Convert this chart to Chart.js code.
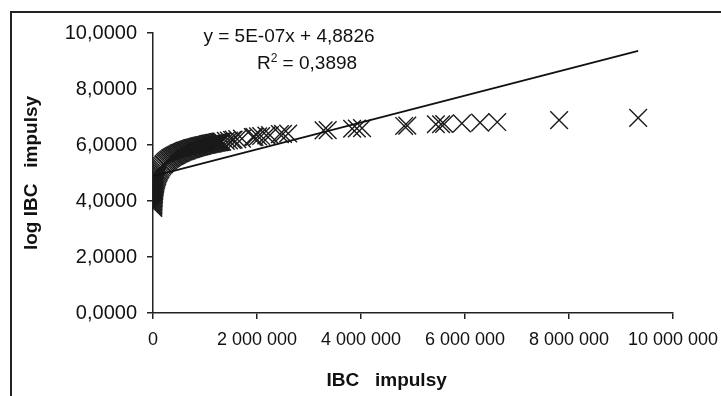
<!DOCTYPE html>
<html>
<head>
<meta charset="utf-8">
<script src="https://cdn.jsdelivr.net/npm/chart.js@4"></script>
<style>
  html, body { margin: 0; padding: 0; background: #fff; overflow: hidden; }
  #wrap { position: relative; width: 721px; height: 396px; overflow: hidden; }
  #frame { position: absolute; left: 10px; top: 11px; width: 740px; height: 420px;
           border-left: 2px solid #222; border-top: 2px solid #222; }
  canvas { position: absolute; left: 0; top: 0; }
</style>
</head>
<body>
<div id="wrap"><div id="frame"></div><canvas id="c" width="721" height="396"></canvas></div>
<script>
// IBC impulsy (x) vs log IBC impulsy (y)
const ibcX = [
  5623, 6310, 7079, 7943, 8913, 10000, 11220, 12590, 14130, 15850,
  17780, 19950, 22390, 25120, 28180, 31620, 35480, 39810, 44670, 50120,
  56230, 63100, 70790, 79430, 89130, 100000, 112200, 125900, 141300, 158500,
  177800, 199500,
  210000, 230000, 250000, 270000, 290000, 310000, 330000, 350000, 370000, 390000,
  410000, 430000, 450000, 470000, 490000, 510000, 530000, 550000, 570000, 590000,
  610000, 630000, 650000, 670000, 690000, 710000, 730000, 750000, 770000, 790000,
  810000, 830000, 850000, 870000, 890000, 910000, 930000, 950000, 970000, 990000,
  1010000, 1030000, 1050000, 1070000, 1090000, 1110000, 1130000, 1150000, 1170000, 1190000,
  1210000, 1230000, 1250000, 1270000, 1290000, 1310000, 1330000,
  1400000, 1460000, 1520000, 1550000, 1620000, 1710000, 1920000, 1950000, 2020000, 2080000,
  2180000, 2250000, 2440000, 2500000, 2600000, 3280000, 3360000, 3830000, 3920000, 4020000,
  4830000, 4890000, 5440000, 5540000, 5600000, 5940000, 6290000, 6620000, 7810000, 9330000
];
const logY = [
  3.75, 3.80, 3.85, 3.90, 3.95, 4.00, 4.05, 4.10, 4.15, 4.20,
  4.25, 4.30, 4.35, 4.40, 4.45, 4.50, 4.55, 4.60, 4.65, 4.70,
  4.75, 4.80, 4.85, 4.90, 4.95, 5.00, 5.05, 5.10, 5.15, 5.20,
  5.25, 5.30,
  5.32, 5.36, 5.40, 5.43, 5.46, 5.49, 5.52, 5.54, 5.57, 5.59,
  5.61, 5.63, 5.65, 5.67, 5.69, 5.71, 5.72, 5.74, 5.76, 5.77,
  5.79, 5.80, 5.81, 5.83, 5.84, 5.85, 5.86, 5.88, 5.89, 5.90,
  5.91, 5.92, 5.93, 5.94, 5.95, 5.96, 5.97, 5.98, 5.99, 6.00,
  6.00, 6.01, 6.02, 6.03, 6.04, 6.05, 6.05, 6.06, 6.07, 6.08,
  6.08, 6.09, 6.10, 6.10, 6.11, 6.12, 6.12,
  6.15, 6.16, 6.18, 6.19, 6.21, 6.23, 6.28, 6.29, 6.31, 6.32,
  6.34, 6.35, 6.39, 6.40, 6.41, 6.52, 6.53, 6.58, 6.59, 6.60,
  6.68, 6.69, 6.74, 6.74, 6.75, 6.77, 6.80, 6.82, 6.89, 6.97
];

// linear trend line end points
const trendX = [5623, 9330000];
const trendY = [4.885, 9.36];

const eqLine = 'y = 5E-07x + 4,8826';
const r2Value = ' = 0,3898';

const xTicks = [0, 2000000, 4000000, 6000000, 8000000, 10000000];
const yTicks = [0, 2, 4, 6, 8, 10];

const FONT = '"Liberation Sans", Arial, sans-serif';
const INK = '#111';

const fmtX = v => String(v).replace(/\B(?=(\d{3})+(?!\d))/g, ' ');
const fmtY = v => v.toFixed(4).replace('.', ',');

const equation = {
  id: 'equation',
  afterDatasetsDraw(chart) {
    const { ctx, chartArea } = chart;
    ctx.save();
    ctx.fillStyle = INK;
    ctx.textBaseline = 'alphabetic';
    ctx.font = '19px ' + FONT;
    ctx.textAlign = 'center';
    ctx.fillText(eqLine, chartArea.left + 136, chartArea.top + 9);

    // R² with a raised 2
    ctx.textAlign = 'left';
    const big = '19px ' + FONT, small = '12px ' + FONT;
    ctx.font = big;
    const wR = ctx.measureText('R').width, wV = ctx.measureText(r2Value).width;
    ctx.font = small;
    const w2 = ctx.measureText('2').width;
    const x = chartArea.left + 154 - (wR + w2 + wV) / 2;
    const base = chartArea.top + 36;
    ctx.font = big;
    ctx.fillText('R', x, base);
    ctx.font = small;
    ctx.fillText('2', x + wR, base - 7);
    ctx.font = big;
    ctx.fillText(r2Value, x + wR + w2, base);
    ctx.restore();
  }
};

new Chart(document.getElementById('c'), {
  type: 'scatter',
  data: {
    datasets: [
      {
        type: 'line',
        data: trendX.map((x, i) => ({ x, y: trendY[i] })),
        borderColor: '#111',
        borderWidth: 1.8,
        pointRadius: 0,
        fill: false
      },
      {
        data: ibcX.map((x, i) => ({ x, y: logY[i] })),
        pointStyle: 'crossRot',
        pointRadius: 12.5,
        borderColor: '#1a1a1a',
        borderWidth: 1.4,
        backgroundColor: 'transparent'
      }
    ]
  },
  options: {
    responsive: false,
    animation: false,
    devicePixelRatio: 1,
    layout: { padding: { left: 0, top: 33, right: 48, bottom: 0 } },
    plugins: { legend: { display: false }, tooltip: { enabled: false } },
    scales: {
      x: {
        type: 'linear',
        min: 0,
        max: 10000000,
        afterBuildTicks: s => { s.ticks = xTicks.map(value => ({ value })); },
        afterFit: s => { s.height = 83; s.paddingLeft = 0; s.paddingRight = 0; },
        ticks: { callback: fmtX, color: INK, font: { family: FONT, size: 18 }, padding: 10, maxRotation: 0 },
        grid: { drawOnChartArea: false, tickLength: 6, color: '#222', lineWidth: 1.5 },
        border: { color: '#222', width: 1.5 },
        title: {
          display: true,
          text: 'IBC   impulsy' + '\u00a0'.repeat(10),
          color: INK,
          font: { family: FONT, size: 19, weight: 'bold' },
          padding: { top: 0, bottom: 4 }
        }
      },
      y: {
        min: 0,
        max: 10,
        afterBuildTicks: s => { s.ticks = yTicks.map(value => ({ value })); },
        afterFit: s => { s.width = 153; },
        ticks: { callback: fmtY, color: INK, font: { family: FONT, size: 20 }, padding: 10 },
        grid: { drawOnChartArea: false, tickLength: 6, color: '#222', lineWidth: 1.5 },
        border: { color: '#222', width: 1.5 },
        title: {
          display: true,
          text: 'log IBC   impulsy',
          color: INK,
          font: { family: FONT, size: 19, weight: 'bold' },
          padding: { top: 20, bottom: 0 }
        }
      }
    }
  },
  plugins: [equation]
});
</script>
</body>
</html>
